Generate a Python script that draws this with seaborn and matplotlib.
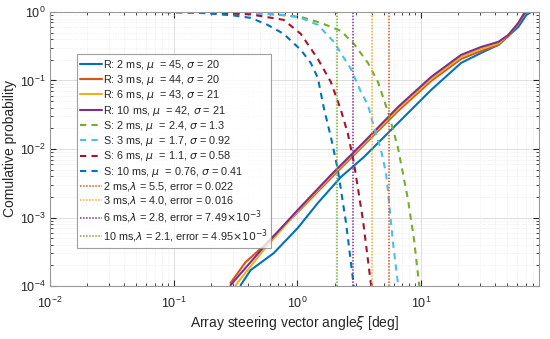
import numpy as np
import pandas as pd
import matplotlib
matplotlib.use("Agg")
import matplotlib.pyplot as plt
import seaborn as sns

r2_x = [0.3475, 0.419, 0.644, 1.007, 1.464, 2.249, 3.456, 6.52, 12.08, 21.1, 30.7, 42.2, 50.9, 61.3, 71.2, 78.2, 90]
r2_y = [1.03e-4, 1.71e-4, 3.03e-4, 7.03e-4, 1.63e-3, 3.90e-3, 7.64e-3, 0.0240, 0.0727, 0.180, 0.252, 0.330, 0.446, 0.604, 0.904, 1.0, 1.0]

r3_x = [0.288, 0.3815, 0.534, 1.007, 1.866, 3.456, 6.52, 12.08, 21.1, 30.7, 42.2, 50.9, 61.3, 69.8, 75.3, 90]
r3_y = [1.11e-4, 2.24e-4, 3.84e-4, 1.20e-3, 3.77e-3, 0.01144, 0.0359, 0.0984, 0.206, 0.270, 0.330, 0.446, 0.668, 0.967, 1.0, 1.0]

r6_x = [0.3165, 0.534, 1.007, 1.866, 3.456, 6.52, 12.08, 21.1, 30.7, 42.2, 50.9, 61.3, 68.6, 73.9, 90]
r6_y = [1.03e-4, 3.36e-4, 1.24e-3, 3.97e-3, 0.0120, 0.0384, 0.105, 0.220, 0.288, 0.347, 0.461, 0.680, 0.967, 1.0, 1.0]

r10_x = [0.288, 0.534, 1.007, 1.866, 3.456, 6.52, 12.08, 21.1, 30.7, 42.2, 50.9, 61.3, 68.6, 73.9, 90]
r10_y = [1.03e-4, 3.71e-4, 1.29e-3, 4.17e-3, 0.01265, 0.0410, 0.1125, 0.236, 0.308, 0.365, 0.461, 0.691, 0.967, 1.0, 1.0]

# --- S curves (model CCDF) ---
s2_x = [0.01, 0.0647, 0.419, 1.066, 1.548, 2.249, 2.868, 3.724, 4.488, 5.51, 6.52, 7.86, 8.79, 9.65, 9.9]
s2_y = [1.0, 1.0, 0.983, 0.845, 0.691, 0.528, 0.341, 0.180, 0.0950, 0.0313, 0.0103, 0.0018, 4.7e-4, 1.07e-4, 8e-5]

s3_x = [0.01, 0.165, 0.419, 0.776, 1.066, 1.464, 1.973, 2.711, 3.267, 3.724, 4.165, 4.747, 5.21, 5.41, 5.94, 6.52, 6.7]
s3_y = [1.0, 1.0, 0.951, 0.904, 0.817, 0.646, 0.365, 0.147, 0.068, 0.0439, 0.0209, 0.00967, 0.00447, 0.00236, 4.25e-4, 1.07e-4, 8e-5]

s6_x = [0.01, 0.0647, 0.165, 0.419, 0.776, 1.066, 1.464, 1.866, 2.249, 2.564, 2.868, 3.392, 3.938, 4.05]
s6_y = [1.0, 1.0, 0.983, 0.919, 0.764, 0.477, 0.206, 0.095, 0.0371, 0.0166, 0.00625, 9.2e-4, 1.07e-4, 8e-5]

s10_x = [0.01, 0.0647, 0.165, 0.30, 0.419, 0.575, 0.776, 1.066, 1.284, 1.464, 1.637, 1.866, 2.127, 2.47, 2.868, 2.95]
s10_y = [1.0, 1.0, 0.967, 0.89, 0.817, 0.646, 0.477, 0.279, 0.180, 0.109, 0.0397, 0.0150, 0.00494, 8.6e-4, 9.7e-5, 6e-5]

# --- thresholds lambda ---
lam_vals = [5.5, 4.0, 2.8, 2.1]

blue, orange, yellow, purple = "#0072BD", "#D95319", "#EDB120", "#7E2F8E"
green, cyan, darkred = "#77AC30", "#4DBEEE", "#A2142F"

sns.set_style("ticks")
plt.rcParams["font.family"] = ["Liberation Sans", "DejaVu Sans"]
plt.rcParams["mathtext.fontset"] = "dejavusans"

fig, ax = plt.subplots(figsize=(5.5, 3.39), dpi=100)
fig.subplots_adjust(left=0.091, right=0.98, top=0.965, bottom=0.156)

r_curves = [
    (r2_x, r2_y, blue, r"R: 2 ms, $\mu$  = 45, $\sigma$ = 20"),
    (r3_x, r3_y, orange, r"R: 3 ms, $\mu$  = 44, $\sigma$ = 20"),
    (r6_x, r6_y, yellow, r"R: 6 ms, $\mu$  = 43, $\sigma$ = 21"),
    (r10_x, r10_y, purple, r"R: 10 ms, $\mu$  = 42, $\sigma$ = 21"),
]
s_curves = [
    (s2_x, s2_y, green, r"S: 2 ms, $\mu$  = 2.4, $\sigma$ = 1.3"),
    (s3_x, s3_y, cyan, r"S: 3 ms, $\mu$  = 1.7, $\sigma$ = 0.92"),
    (s6_x, s6_y, darkred, r"S: 6 ms, $\mu$  = 1.1, $\sigma$ = 0.58"),
    (s10_x, s10_y, blue, r"S: 10 ms, $\mu$  = 0.76, $\sigma$ = 0.41"),
]

for xs, ys, c, lab in r_curves:
    df = pd.DataFrame({"x": xs, "y": ys})
    sns.lineplot(data=df, x="x", y="y", ax=ax, color=c, lw=1.5, label=lab,
                 estimator=None, sort=False)

for xs, ys, c, lab in s_curves:
    df = pd.DataFrame({"x": xs, "y": ys})
    sns.lineplot(data=df, x="x", y="y", ax=ax, color=c, lw=1.5, label=lab,
                 estimator=None, sort=False, linestyle=(0, (3, 2.5)))

lam_labels = [
    r"2 ms,$\lambda$ = 5.5, error = 0.022",
    r"3 ms,$\lambda$ = 4.0, error = 0.016",
    r"6 ms,$\lambda$ = 2.8, error = 7.49$\times 10^{-3}$",
    r"10 ms,$\lambda$ = 2.1, error = 4.95$\times 10^{-3}$",
]
lam_colors = [orange, yellow, purple, green]
for lv, c, lab in zip(lam_vals, lam_colors, lam_labels):
    ax.axvline(lv, color=c, lw=1.1, linestyle=(0, (1, 1)), label=lab)

ax.set_xscale("log")
ax.set_yscale("log")
ax.set_xlim(0.01, 90)
ax.set_ylim(1e-4, 1)

ax.grid(True, which="major", color="#d9d9d9", lw=0.6)
ax.grid(True, which="minor", color="#e6e6e6", lw=0.5, linestyle=(0, (1, 1.5)))
ax.tick_params(which="both", direction="in", top=True, right=True, labelsize=9, colors="#262626")
ax.tick_params(which="major", length=4)
ax.tick_params(which="minor", length=2)
ax.tick_params(axis="x", which="major", pad=7)
ax.tick_params(axis="y", which="major", pad=3)
for sp in ax.spines.values():
    sp.set_color("#999999")
    sp.set_linewidth(0.8)

ax.set_xlabel(r"Array steering vector angle$\xi$ [deg]", fontsize=10, color="#262626", labelpad=2)
ax.set_ylabel("Comulative probability", fontsize=10, color="#262626", labelpad=2)

leg = ax.legend(loc="upper left", bbox_to_anchor=(0.055, 0.845), fontsize=7.8,
                labelspacing=0.12, handlelength=2.0, handletextpad=0.1,
                borderpad=0.3, borderaxespad=0, frameon=True, fancybox=False)
leg.get_frame().set_edgecolor("#888888")
leg.get_frame().set_linewidth(0.8)

fig.savefig("out.png", dpi=100)
